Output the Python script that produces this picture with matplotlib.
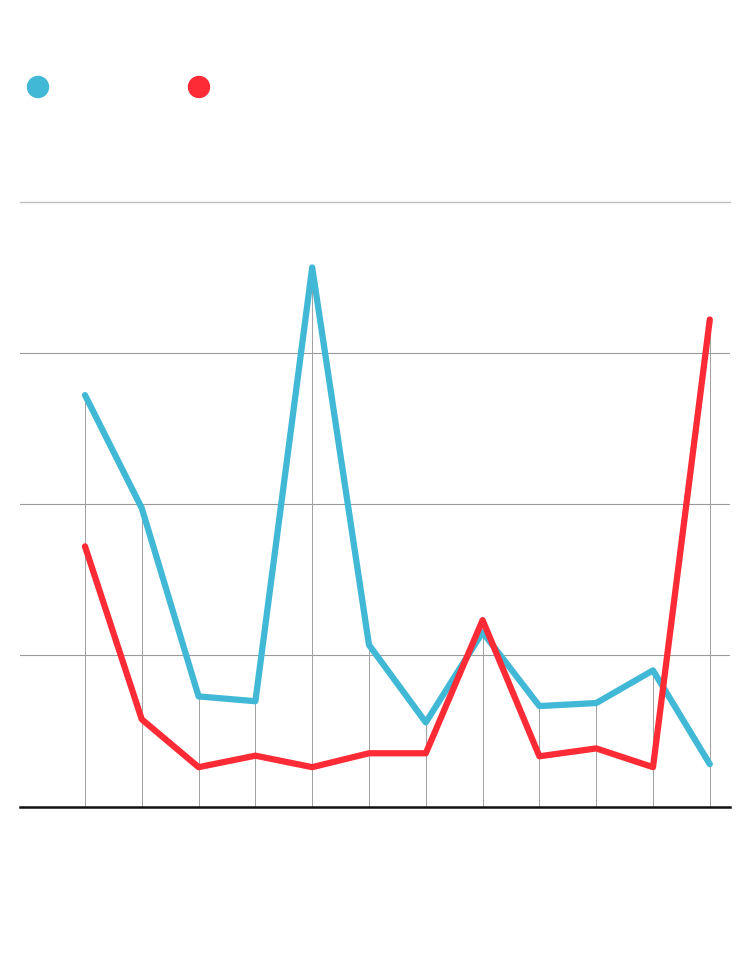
import matplotlib
matplotlib.use("Agg")
import matplotlib.pyplot as plt
from matplotlib.patches import Ellipse

# values (scale 0-100, gridlines every 25)
idx = list(range(12))
blue_vals = [68.0, 49.3, 18.2, 17.4, 89.1, 26.7, 13.9, 28.8, 16.6, 17.1, 22.5, 7.0]
red_vals = [43.0, 14.4, 6.5, 8.4, 6.5, 8.8, 8.8, 30.8, 8.3, 9.6, 6.5, 80.5]
grid_levels = [25, 50, 75]

BLUE = "#41b8d5"
RED = "#fc2b35"

fig = plt.figure(figsize=(7.5, 9.7), dpi=100)
ax = fig.add_axes([20 / 750, (970 - 807.5) / 970, 710 / 750, 605 / 970])

# horizontal grid
for g in grid_levels:
    ax.axhline(g, color="#9a9a9a", lw=0.8, zorder=1)
ax.axhline(100, color="#c0c0c0", lw=1.0, zorder=1, clip_on=False)

# drop lines from baseline to the higher of the two points
for i, b, r in zip(idx, blue_vals, red_vals):
    ax.vlines(i, 0, max(b, r), color="#a0a0a0", lw=0.7, zorder=1)

ax.plot(idx, blue_vals, color=BLUE, lw=4.5, solid_capstyle="round",
        solid_joinstyle="round", zorder=3)
ax.plot(idx, red_vals, color=RED, lw=4.5, solid_capstyle="round",
        solid_joinstyle="round", zorder=4)

ax.axhline(0, color="#111111", lw=1.8, zorder=5, clip_on=False)

ax.set_xlim(-65 / 56.8, 645 / 56.8)
ax.set_ylim(0, 100)
ax.axis("off")

# legend dots, no labels
for cx, col in [(38, BLUE), (199, RED)]:
    fig.add_artist(Ellipse((cx / 750, 1 - 88 / 970), 21 / 750, 21 / 970,
                           transform=fig.transFigure, color=col))

fig.savefig("out.png", dpi=100)
